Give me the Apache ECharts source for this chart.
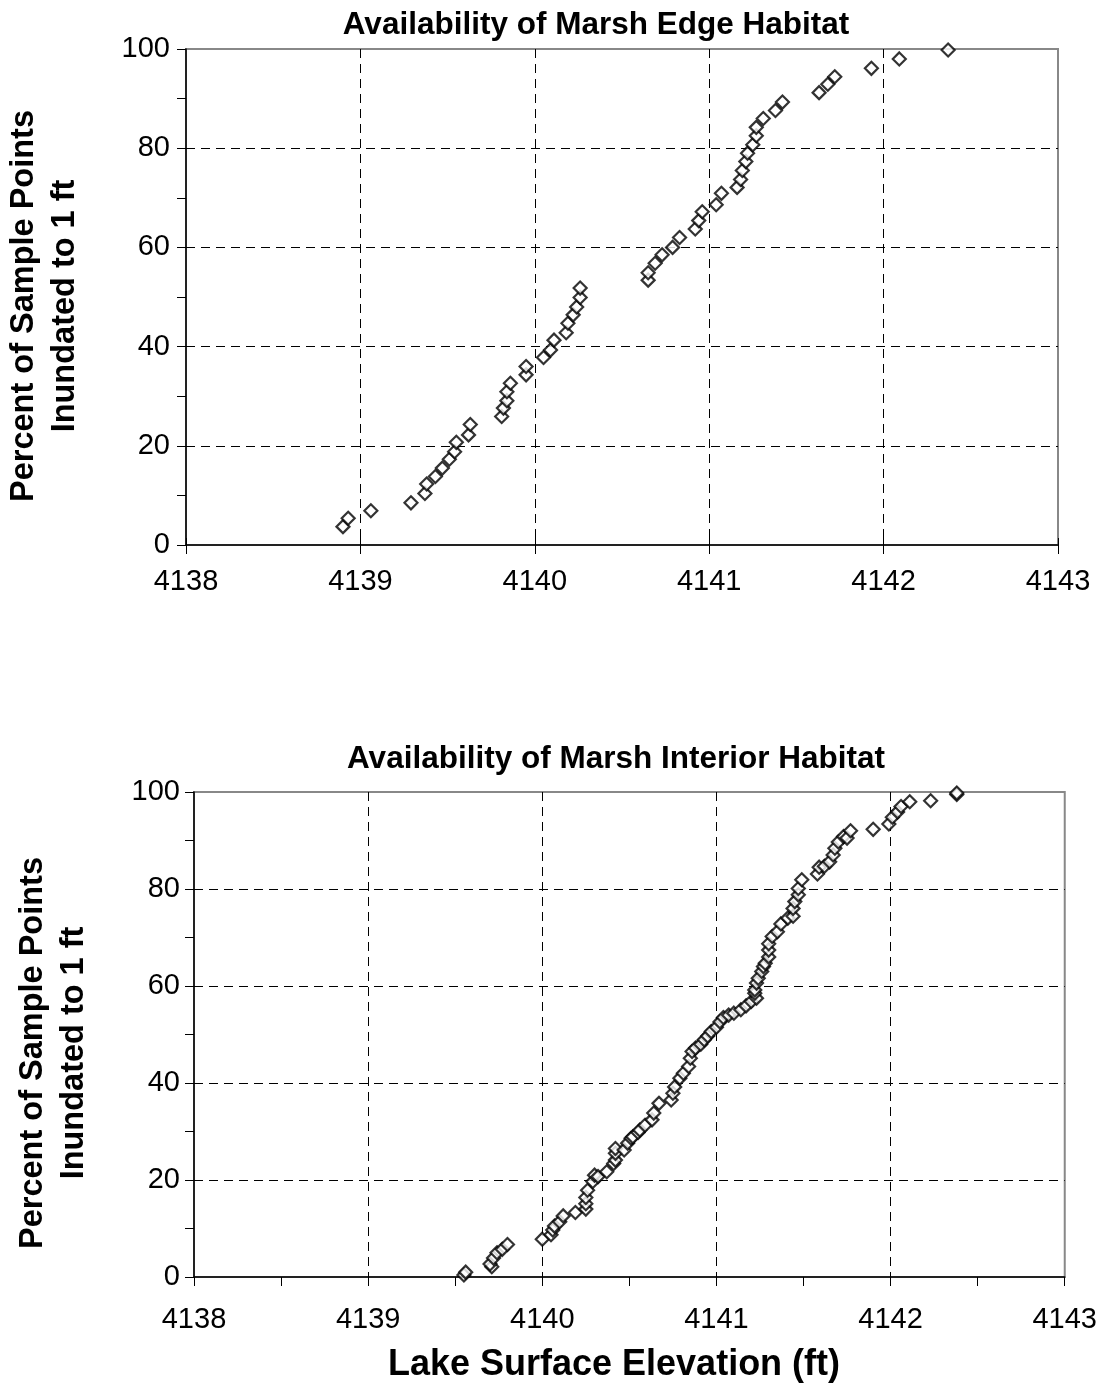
<!DOCTYPE html>
<html>
<head>
<meta charset="utf-8">
<script src="https://cdn.jsdelivr.net/npm/echarts@6/dist/echarts.min.js"></script>
<style>
html,body{margin:0;padding:0;background:#fff;}
#chart{width:1100px;height:1385px;}
</style>
</head>
<body>
<div id="chart"></div>
<script>
// ---- Data ----
const titleTop = 'Availability of Marsh Edge Habitat';
const titleBottom = 'Availability of Marsh Interior Habitat';
const yAxisName = 'Percent of Sample Points\nInundated to 1 ft';
const xAxisName = 'Lake Surface Elevation (ft)';
const xTicks = [4138, 4139, 4140, 4141, 4142, 4143];
const yTicks = [0, 20, 40, 60, 80, 100];

const edgeElev = [4138.90, 4138.93, 4139.06, 4139.29, 4139.37, 4139.38, 4139.43, 4139.47, 4139.51, 4139.54,
  4139.55, 4139.62, 4139.63, 4139.81, 4139.82, 4139.84, 4139.84, 4139.86, 4139.95, 4139.95,
  4140.05, 4140.09, 4140.11, 4140.18, 4140.19, 4140.22, 4140.24, 4140.26, 4140.26, 4140.65,
  4140.65, 4140.69, 4140.73, 4140.79, 4140.83, 4140.92, 4140.94, 4140.96, 4141.04, 4141.07,
  4141.16, 4141.18, 4141.19, 4141.21, 4141.22, 4141.25, 4141.27, 4141.27, 4141.31, 4141.38,
  4141.42, 4141.63, 4141.68, 4141.72, 4141.93, 4142.09, 4142.37];
const edgePct = [3.7, 5.4, 6.9, 8.5, 10.4, 12.3, 13.8, 15.5, 17.3, 18.8,
  20.7, 22.2, 24.3, 25.9, 27.6, 29.1, 30.9, 32.6, 34.3, 36.0,
  37.8, 39.3, 41.3, 42.8, 44.7, 46.4, 48.0, 49.9, 51.8, 53.4,
  54.9, 56.8, 58.5, 60.0, 62.0, 63.7, 65.4, 67.2, 68.6, 70.9,
  72.1, 73.7, 75.5, 77.3, 79.0, 80.7, 82.5, 84.2, 86.0, 87.6,
  89.3, 91.2, 92.9, 94.4, 96.1, 98.0, 99.8];

const interiorElev = [4139.55, 4139.56, 4139.71, 4139.70, 4139.72, 4139.74, 4139.77, 4139.80, 4140.00, 4140.05,
  4140.06, 4140.07, 4140.10, 4140.12, 4140.19, 4140.25, 4140.25, 4140.25, 4140.26, 4140.29,
  4140.30, 4140.32, 4140.37, 4140.41, 4140.42, 4140.42, 4140.42, 4140.47, 4140.49, 4140.51,
  4140.52, 4140.55, 4140.56, 4140.59, 4140.63, 4140.64, 4140.67, 4140.74, 4140.75, 4140.76,
  4140.79, 4140.81, 4140.84, 4140.85, 4140.86, 4140.88, 4140.91, 4140.93, 4140.95, 4140.97,
  4141.00, 4141.02, 4141.04, 4141.07, 4141.10, 4141.14, 4141.17, 4141.20, 4141.23, 4141.22,
  4141.22, 4141.23, 4141.24, 4141.26, 4141.27, 4141.28, 4141.30, 4141.30, 4141.30, 4141.32,
  4141.35, 4141.37, 4141.41, 4141.44, 4141.44, 4141.45, 4141.47, 4141.47, 4141.49, 4141.58,
  4141.59, 4141.62, 4141.65, 4141.67, 4141.68, 4141.70, 4141.73, 4141.75, 4141.77, 4141.90,
  4141.99, 4142.01, 4142.04, 4142.06, 4142.11, 4142.23, 4142.38, 4142.38];
const interiorPct = [0.4, 1.0, 2.1, 2.7, 3.9, 5.0, 5.7, 6.7, 7.8, 8.7,
  9.7, 10.5, 11.4, 12.6, 13.3, 14.0, 15.1, 16.4, 17.9, 19.7,
  21.0, 20.7, 21.7, 23.4, 24.1, 25.5, 26.5, 26.2, 27.6, 28.6,
  28.9, 29.8, 30.3, 31.3, 32.4, 33.8, 35.8, 36.5, 37.9, 39.2,
  41.0, 42.0, 43.4, 45.1, 46.5, 47.2, 48.0, 48.9, 49.7, 50.6,
  51.5, 52.6, 53.5, 54.0, 54.4, 55.1, 55.9, 56.8, 57.5, 58.5,
  59.2, 60.6, 61.6, 63.0, 64.0, 64.7, 66.0, 67.4, 68.7, 70.2,
  71.2, 72.8, 74.0, 74.4, 76.0, 77.4, 78.8, 80.1, 81.9, 83.1,
  84.5, 84.7, 85.6, 87.0, 88.4, 89.7, 90.8, 90.5, 92.0, 92.3,
  93.4, 94.8, 95.9, 97.0, 98.0, 98.2, 99.5, 99.8];

// ---- Chart ----
const FONT = "'Liberation Sans', Arial, Helvetica, sans-serif";
const TICK_FS = 29;
const chart = echarts.init(document.getElementById('chart'), null, {renderer: 'canvas'});

const grids = [
  {left: 186, top: 49, width: 872, height: 496},
  {left: 194, top: 792, width: 873, height: 485}
];

function makeX(gridIndex, bottomStyle) {
  return {
    type: 'value', gridIndex: gridIndex,
    min: xTicks[0], max: xTicks[xTicks.length - 1], interval: 1,
    position: 'bottom',
    axisLine: {show: true, onZero: false, lineStyle: {color: '#000', width: 1.5}},
    axisTick: {show: true, inside: false, length: 9, lineStyle: {color: '#000', width: 1}},
    axisLabel: {show: true, color: '#000', fontFamily: FONT, fontSize: TICK_FS,
      margin: bottomStyle ? 28 : 22, formatter: v => String(v)},
    splitLine: {show: true, showMinLine: false, showMaxLine: false,
      lineStyle: {color: '#000', type: [9, 6], width: 1}},
    minorTick: {show: bottomStyle, splitNumber: 2, length: 9, lineStyle: {color: '#000', width: 1}},
    minorSplitLine: {show: false}
  };
}
function makeY(gridIndex, margin) {
  return {
    type: 'value', gridIndex: gridIndex,
    min: yTicks[0], max: yTicks[yTicks.length - 1], interval: 20,
    axisLine: {show: true, onZero: false, lineStyle: {color: '#000', width: 1.5}},
    axisTick: {show: true, inside: false, length: 9, lineStyle: {color: '#000', width: 1}},
    minorTick: {show: true, splitNumber: 2, length: 9, lineStyle: {color: '#000', width: 1}},
    axisLabel: {show: true, color: '#000', fontFamily: FONT, fontSize: TICK_FS, margin: margin,
      formatter: v => String(v)},
    splitLine: {show: true, showMinLine: false, showMaxLine: false,
      lineStyle: {color: '#000', type: [9, 6], width: 1}}
  };
}

const xAxes = [makeX(0, false), makeX(1, true)];
// inside half of the crossing ticks on the upper chart's x axis
xAxes.push({
  type: 'value', gridIndex: 0, min: xTicks[0], max: xTicks[xTicks.length - 1], interval: 1,
  position: 'bottom', offset: 0,
  axisLine: {show: false, onZero: false},
  axisTick: {show: true, inside: true, length: 7, lineStyle: {color: '#000', width: 1}},
  axisLabel: {show: false}, splitLine: {show: false}
});

function diamondSeries(xi, yi, xs, ys) {
  return {
    type: 'scatter', xAxisIndex: xi, yAxisIndex: yi,
    symbol: 'diamond', symbolSize: [13, 13],
    itemStyle: {color: '#fff', borderColor: '#000', borderWidth: 2.2},
    data: xs.map((x, i) => [x, ys[i]]),
    z: 5, silent: true, animation: false
  };
}

function rotatedName(x, y) {
  return {
    type: 'text', x: x, y: y, rotation: Math.PI / 2,
    style: {text: yAxisName, fontFamily: FONT, fontWeight: 'bold', fontSize: 32.5,
      lineHeight: 41, fill: '#000', align: 'center', verticalAlign: 'middle'}
  };
}

const option = {
  backgroundColor: '#fff',
  animation: false,
  grid: grids.map(g => Object.assign({show: true, borderColor: '#888', borderWidth: 2, backgroundColor: 'transparent'}, g)),
  xAxis: xAxes,
  yAxis: [makeY(0, 16), makeY(1, 14)],
  series: [
    diamondSeries(0, 0, edgeElev, edgePct),
    diamondSeries(1, 1, interiorElev, interiorPct)
  ],
  graphic: [
    {type: 'text', x: 596, y: 25, style: {text: titleTop, fontFamily: FONT, fontWeight: 'bold', fontSize: 31.5, fill: '#000', align: 'center', verticalAlign: 'middle'}},
    {type: 'text', x: 616, y: 759, style: {text: titleBottom, fontFamily: FONT, fontWeight: 'bold', fontSize: 31.5, fill: '#000', align: 'center', verticalAlign: 'middle'}},
    {type: 'text', x: 614, y: 1365, style: {text: xAxisName, fontFamily: FONT, fontWeight: 'bold', fontSize: 36, fill: '#000', align: 'center', verticalAlign: 'middle'}},
    rotatedName(45, 306),
    rotatedName(54, 1053)
  ]
};
chart.setOption(option);
</script>
</body>
</html>
